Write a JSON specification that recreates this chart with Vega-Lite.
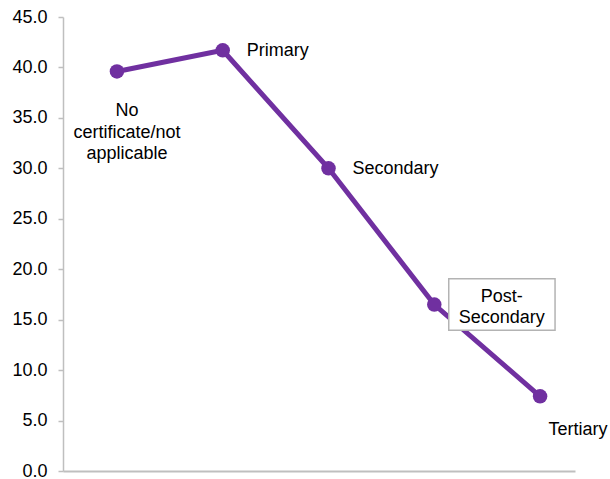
{
  "$schema": "https://vega.github.io/schema/vega-lite/v6.json",
  "width": 512,
  "height": 454,
  "autosize": {"type": "none"},
  "padding": {"left": 63, "top": 17, "right": 35, "bottom": 8},
  "config": {
    "view": {"stroke": null},
    "font": "Liberation Sans",
    "text": {"font": "Liberation Sans", "fontSize": 18, "color": "#000000", "lineHeight": 21.5}
  },
  "data": {
    "values": [
      {"level": "No certificate/not applicable", "label": "No\ncertificate/not\napplicable", "value": 39.6},
      {"level": "Primary", "label": "Primary", "value": 41.7},
      {"level": "Secondary", "label": "Secondary", "value": 30.0},
      {"level": "Post-Secondary", "label": "Post-\nSecondary", "value": 16.5},
      {"level": "Tertiary", "label": "Tertiary", "value": 7.4}
    ]
  },
  "encoding": {
    "x": {
      "field": "level",
      "type": "nominal",
      "sort": null,
      "scale": {"type": "point", "padding": 0.42, "align": 0.607},
      "axis": {
        "title": null,
        "labels": false,
        "ticks": false,
        "grid": false,
        "domainColor": "#bfbfbf",
        "domainWidth": 2
      }
    },
    "y": {
      "field": "value",
      "type": "quantitative",
      "scale": {"domain": [0, 45], "nice": false, "zero": true},
      "axis": {
        "title": null,
        "values": [0, 5, 10, 15, 20, 25, 30, 35, 40, 45],
        "format": ".1f",
        "grid": false,
        "domainColor": "#bfbfbf",
        "domainWidth": 1.5,
        "tickColor": "#bfbfbf",
        "tickSize": 5,
        "tickWidth": 1.5,
        "labelPadding": 11,
        "labelFont": "Liberation Sans",
        "labelFontSize": 18,
        "labelColor": "#000000"
      }
    }
  },
  "layer": [
    {"mark": {"type": "line", "color": "#7030a0", "strokeWidth": 5}},
    {"mark": {"type": "point", "filled": true, "shape": "circle", "size": 210, "color": "#7030a0", "opacity": 1}},
    {
      "transform": [{"filter": "datum.level === 'Post-Secondary'"}],
      "mark": {
        "type": "point",
        "shape": "M0.272,-0.486H2.272V0.486H0.272Z",
        "size": 11300,
        "filled": true,
        "fill": "#ffffff",
        "fillOpacity": 1,
        "stroke": "#b3b3b3",
        "strokeWidth": 1.5,
        "opacity": 1
      }
    },
    {
      "transform": [{"filter": "datum.level === 'No certificate/not applicable'"}],
      "mark": {"type": "text", "align": "center", "baseline": "middle", "dx": 10, "dy": 40, "lineBreak": "\n"},
      "encoding": {"text": {"field": "label"}}
    },
    {
      "transform": [{"filter": "datum.level === 'Primary' || datum.level === 'Secondary'"}],
      "mark": {"type": "text", "align": "left", "baseline": "middle", "dx": 24, "dy": 1},
      "encoding": {"text": {"field": "label"}}
    },
    {
      "transform": [{"filter": "datum.level === 'Post-Secondary'"}],
      "mark": {"type": "text", "align": "center", "baseline": "middle", "dx": 67.5, "dy": -8, "lineBreak": "\n"},
      "encoding": {"text": {"field": "label"}}
    },
    {
      "transform": [{"filter": "datum.level === 'Tertiary'"}],
      "mark": {"type": "text", "align": "center", "baseline": "middle", "dx": 38, "dy": 33.5},
      "encoding": {"text": {"field": "label"}}
    }
  ]
}
